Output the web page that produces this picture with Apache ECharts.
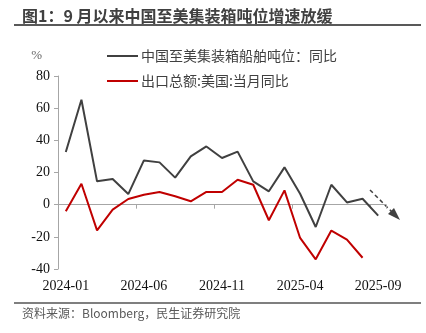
<!DOCTYPE html>
<html><head><meta charset="utf-8">
<script src="https://cdn.jsdelivr.net/npm/echarts@6/dist/echarts.min.js"></script>
<style>html,body{margin:0;padding:0;background:#fff}#c{width:426px;height:333px}</style>
</head><body><div id="c"></div>
<script>
const categories = ['2024-01','2024-02','2024-03','2024-04','2024-05','2024-06','2024-07','2024-08','2024-09','2024-10','2024-11','2024-12','2025-01','2025-02','2025-03','2025-04','2025-05','2025-06','2025-07','2025-08','2025-09'];
const tonnageYoY = [32.7,65.2,14.5,16,6.6,27.5,26.3,16.8,30,36.2,29,33,14.5,8.3,23.2,6.8,-13.9,12.4,1.4,3.7,-6.8];
const exportsYoY = [-4.1,13,-16,-3.1,3.5,6.2,7.9,5.2,2.1,7.9,7.9,15.5,12.4,-9.7,8.9,-20.7,-34,-16.1,-21.7,-33,null];
const seriesNames = ['中国至美集装箱船舶吨位：同比','出口总额:美国:当月同比'];
const yTicks = {min:-40,max:80,interval:20};

const chart = echarts.init(document.getElementById('c'));
const serif = '"Liberation Serif","Times New Roman",serif';
const cjk = '"Noto Sans CJK SC",sans-serif';
chart.setOption({
  animation:false,
  grid:{left:58,right:40,top:76,bottom:64},
  legend:{
    orient:'vertical', left:102, top:44, itemGap:11, itemWidth:31, itemHeight:2, icon:'rect',
    textStyle:{fontFamily:cjk,fontSize:14,color:'#404040',padding:[0,0,0,-2],lineHeight:14},
    data:seriesNames.map((n,i)=>({name:n,itemStyle:{color:i?'#c00000':'#404040'}}))
  },
  xAxis:[{
    type:'category', data:categories, boundaryGap:true, position:'bottom',
    axisLine:{show:false,onZero:false}, axisTick:{show:false},
    axisLabel:{interval:4,fontFamily:serif,fontSize:14,color:'#111',margin:10}
  },{
    type:'category', data:categories, boundaryGap:true, position:'bottom',
    axisLine:{show:true,onZero:true,lineStyle:{color:'#a6a6a6',width:1}},
    axisTick:{show:true,interval:4,length:4,lineStyle:{color:'#a6a6a6'}},
    axisLabel:{show:false}
  }],
  yAxis:{
    type:'value', min:yTicks.min, max:yTicks.max, interval:yTicks.interval,
    name:'%', nameLocation:'end', nameGap:14,
    nameTextStyle:{fontFamily:serif,fontSize:13,color:'#666',align:'right',padding:[0,16,0,0]},
    axisLine:{show:true,lineStyle:{color:'#a6a6a6'}},
    axisTick:{show:true,length:4,lineStyle:{color:'#a6a6a6'}},
    splitLine:{show:false},
    axisLabel:{fontFamily:serif,fontSize:14,color:'#111',margin:8}
  },
  series:[
    {name:seriesNames[0],type:'line',data:tonnageYoY,symbol:'none',lineStyle:{color:'#404040',width:2},itemStyle:{color:'#404040'}},
    {name:seriesNames[1],type:'line',data:exportsYoY,symbol:'none',lineStyle:{color:'#c00000',width:2},itemStyle:{color:'#c00000'}}
  ],
  graphic:[
    {type:'text',left:22,top:8,style:{text:'图1：9 月以来中国至美集装箱吨位增速放缓',font:'bold 16px "Noto Sans CJK SC",sans-serif',fill:'#404040'}},
    {type:'line',shape:{x1:14,y1:25,x2:421,y2:25},style:{stroke:'#595959',lineWidth:2}},
    {type:'line',shape:{x1:14,y1:303,x2:421,y2:303},style:{stroke:'#7f7f7f',lineWidth:2}},
    {type:'text',left:22,top:307,style:{text:'资料来源：Bloomberg，民生证券研究院',font:'12px "Noto Sans CJK SC",sans-serif',fill:'#595959'}},
    {type:'line',shape:{x1:370,y1:190,x2:393,y2:213},style:{stroke:'#404040',lineWidth:1.5,lineDash:[4,3]}},
    {type:'polygon',shape:{points:[[400,220],[388,214],[394,208]]},style:{fill:'#404040'}}
  ]
});
</script></body></html>
